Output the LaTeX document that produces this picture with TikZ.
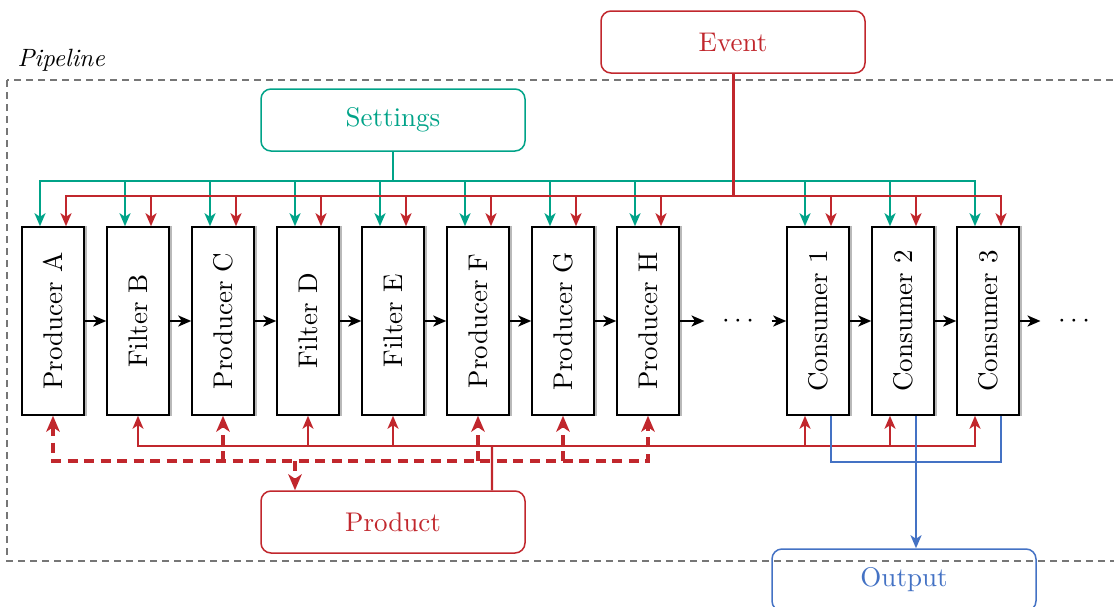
\documentclass[tikz,border=0pt]{standalone}
\usepackage{graphicx}
\usetikzlibrary{arrows.meta,calc}
\definecolor{cred}{RGB}{193,39,45}
\definecolor{cgreen}{RGB}{0,163,136}
\definecolor{cblue}{RGB}{68,114,196}
\definecolor{cframe}{RGB}{118,118,118}
\begin{document}
\begin{tikzpicture}[x=0.4pt,y=-0.4pt,
  every node/.style={font=\fontsize{10.8}{13}\selectfont},
  stage/.style={draw=black,line width=0.6pt,fill=white,minimum width=24.8pt,minimum height=75.2pt,inner sep=0pt},
  rbox/.style={draw=#1,text=#1,line width=0.6pt,rounded corners=4pt,minimum width=105.6pt,minimum height=24.8pt,inner sep=0pt},
  dotsnode/.style={minimum width=26.4pt,inner sep=0pt},
  arr/.style={-{Stealth[length=5.2pt,width=4.4pt,inset=1.4pt]}},
  bigarr/.style={-{Stealth[length=6.4pt,width=5.4pt,inset=1.8pt]}},
  bigarrs/.style={{Stealth[length=6.4pt,width=5.4pt,inset=1.8pt]}-{Stealth[length=6.4pt,width=5.4pt,inset=1.8pt]}},
  flow/.style={black,line width=0.9pt,arr},
  gline/.style={cgreen,line width=0.85pt},
  rline/.style={cred,line width=0.85pt},
  bline/.style={cblue,line width=0.85pt},
  dline/.style={cred,line width=1.4pt,dash pattern=on 4pt off 2.6pt},
  frame/.style={cframe,line width=0.8pt,dash pattern=on 2.8pt off 2pt}
]
\useasboundingbox (0,0) rectangle (1114,607);
\clip (0,0) rectangle (1114,607);

% pipeline frame
\draw[frame] (7,80) rectangle (1135,561);
\node[anchor=base west,font=\fontsize{10}{12}\selectfont\itshape,inner sep=0pt] (pl) at (17,66) {Pipeline};

% stages
\foreach \n/\x/\t in {A/53/Producer A, B/138/Filter B, C/223/Producer C, D/308/Filter D, E/393/Filter E, F/478/Producer F, G/563/Producer G, H/648/Producer H, K1/818/Consumer 1, K2/903/Consumer 2, K3/988/Consumer 3}{
  \node[stage] (\n) at (\x,321) {\rotatebox{90}{\t}};
  \draw[gray!55,line width=0.5pt] ([xshift=0.5pt]\n.north east) -- ([xshift=0.5pt]\n.south east);
}
\node[dotsnode] (dots1) at (738,321) {$\cdots$};
\node[dotsnode] (dots2) at (1074,321) {$\cdots$};

% external boxes
\node[rbox=cred] (event) at (733,42) {Event};
\node[rbox=cgreen] (settings) at (393,120) {Settings};
\node[rbox=cred] (product) at (393,522) {Product};
\node[rbox=cblue] (output) at (904,580) {Output};

% flow arrows
\foreach \a/\b in {A/B,B/C,C/D,D/E,E/F,F/G,G/H,H/dots1,dots1/K1,K1/K2,K2/K3,K3/dots2}
  \draw[flow] (\a.east) -- (\b.west);

% settings
\coordinate (gj) at (393,181);
\draw[gline,line width=1pt] (settings.south) -- (gj);
\foreach \n in {A,B,C,D,E,F,G,H,K1,K2,K3}
  \draw[gline,arr] (gj) -| ([xshift=-5.2pt]\n.north);

% event
\coordinate (rj) at (733,196);
\draw[rline,line width=1.2pt] (event.south) -- (rj);
\foreach \n in {A,B,C,D,E,F,G,H,K1,K2,K3}
  \draw[rline,arr] (rj) -| ([xshift=5.2pt]\n.north);

% product (solid, to filters and consumers)
\coordinate (pj) at (492,446);
\draw[rline] ([xshift=39.6pt]product.north) -- (pj);
\foreach \t in {B.south,D.south,E.south}
  \draw[rline,arr] (pj) -| (\t);
\foreach \n in {K1,K2,K3}
  \draw[rline,arr] (pj) -| ([xshift=-5.2pt]\n.south);

% product (dashed, producers)
\coordinate (dbus) at (0,461);
\coordinate (pin) at ([xshift=-39.2pt]product.north);
\draw[dline,bigarrs] (A.south) |- (dbus -| H.south) -- (H.south);
\foreach \n in {C,F,G}
  \draw[dline,bigarr] (dbus -| \n.south) -- (\n.south);
\draw[dline,bigarr] (dbus -| pin) -- (pin);

% output
\draw[bline] ([xshift=5.2pt]K1.south) -- ++(0,-18.4pt) -| ([xshift=5.2pt]K3.south);
\draw[bline,arr] ([xshift=5.2pt]K2.south) -- ([xshift=4.8pt]output.north);
\end{tikzpicture}
\end{document}
